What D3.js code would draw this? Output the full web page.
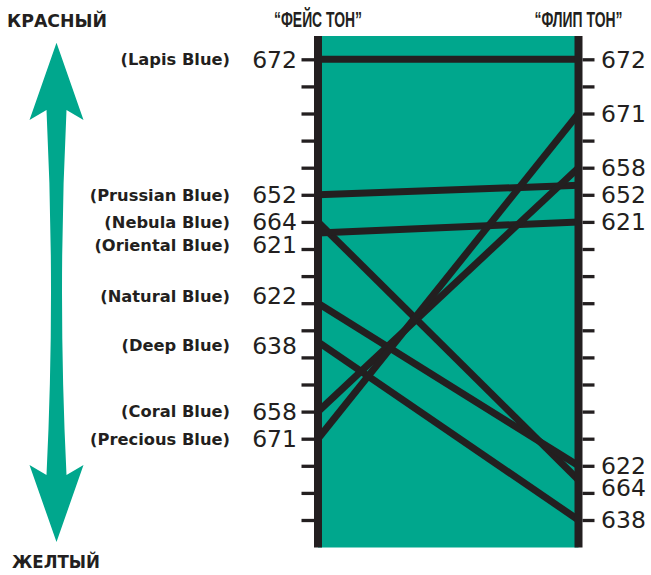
<!DOCTYPE html>
<html>
<head>
<meta charset="utf-8">
<script src="https://cdn.jsdelivr.net/npm/d3@7/dist/d3.min.js"></script>
<style>
  html, body { margin: 0; padding: 0; background: #fff; }
  svg { display: block; }
</style>
</head>
<body>
<svg id="chart" width="651" height="575"></svg>
<script>
// ---- data ----
const names = ["Lapis Blue", "Prussian Blue", "Nebula Blue", "Oriental Blue", "Natural Blue", "Deep Blue", "Coral Blue", "Precious Blue"];
const codes = [672, 652, 664, 621, 622, 638, 658, 671];
// hue position (tick units, 0 = red end at top, 17 = yellow end at bottom)
const faceTone = [0, 5, 6, 6.41, 9, 10.43, 13, 14];
const flipTone = [0, 4.65, 15.52, 6, 15, 17, 4, 2];
// label positions (same units) where labels are pushed apart to avoid overlap
const faceLabelPos = [0, 5, 6, 6.84, 8.73, 10.55, 13, 14];
const flipLabelPos = [0, 5, 15.82, 6, 15, 17, 4, 2];
const tickValues = d3.range(0, 18);
const titles = ["\u201CФЕЙС ТОН\u201D", "\u201CФЛИП ТОН\u201D"];
const endLabels = ["КРАСНЫЙ", "ЖЕЛТЫЙ"];

// ---- layout ----
const svg = d3.select("#chart");
const GREEN = "#00a78d";
const INK = "#231f20";
const leftX = 318, rightX = 578.5, barW = 8;
const panelTop = 36, panelBottom = 547.5;

const y = d3.scaleLinear().domain([0, 17]).range([59.3, 520]);
const x = d3.scalePoint().domain(["face", "flip"]).range([leftX, rightX]);

// green panel
svg.append("rect")
  .attr("x", leftX).attr("y", panelTop)
  .attr("width", rightX - leftX).attr("height", panelBottom - panelTop)
  .attr("fill", GREEN);

// connecting lines
const rows = names.map((n, i) => ({name: n, code: codes[i], face: faceTone[i], flip: flipTone[i]}));
const line = d3.line().x(d => d[0]).y(d => d[1]);
svg.append("g").selectAll("path").data(rows).join("path")
  .attr("d", d => line([[x("face"), y(d.face)], [x("flip"), y(d.flip)]]))
  .attr("stroke", INK).attr("stroke-width", 7).attr("fill", "none");

// axes
const leftAxis = d3.axisLeft(y).tickValues(tickValues).tickSize(12.5).tickFormat("");
const rightAxis = d3.axisRight(y).tickValues(tickValues).tickSize(12).tickFormat("");
const gL = svg.append("g").attr("transform", `translate(${leftX - barW / 2},0)`).call(leftAxis);
const gR = svg.append("g").attr("transform", `translate(${rightX + barW / 2},0)`).call(rightAxis);
[gL, gR].forEach(g => {
  g.select(".domain").remove();
  g.selectAll(".tick line").attr("stroke", INK).attr("stroke-width", 3.3);
});

// bars
[leftX, rightX].forEach(cx => {
  svg.append("rect")
    .attr("x", cx - barW / 2).attr("y", panelTop)
    .attr("width", barW).attr("height", panelBottom - panelTop)
    .attr("fill", INK);
});

// left labels
const numFont = "'DejaVu Sans', sans-serif";
svg.append("g").selectAll("text").data(rows).join("text")
  .attr("x", 297).attr("y", (d, i) => y(faceLabelPos[i]))
  .attr("dy", "0.36em")
  .attr("text-anchor", "end")
  .attr("font-family", numFont).attr("font-size", 23.5)
  .attr("fill", INK)
  .text(d => d.code);

svg.append("g").selectAll("text").data(rows).join("text")
  .attr("x", 230).attr("y", (d, i) => y(faceLabelPos[i]))
  .attr("dy", "0.36em")
  .attr("text-anchor", "end")
  .attr("font-family", numFont).attr("font-size", 16.3).attr("font-weight", "bold")
  .attr("fill", INK)
  .text(d => `(${d.name})`);

// right labels
svg.append("g").selectAll("text").data(rows).join("text")
  .attr("x", 601).attr("y", (d, i) => y(flipLabelPos[i]))
  .attr("dy", "0.36em")
  .attr("text-anchor", "start")
  .attr("font-family", numFont).attr("font-size", 23.5)
  .attr("fill", INK)
  .text(d => d.code);

// column titles (condensed by horizontal scaling)
svg.append("g").selectAll("text").data(titles).join("text")
  .attr("text-anchor", "middle")
  .attr("font-family", "'Liberation Sans', Arial, sans-serif")
  .attr("font-weight", "bold").attr("font-size", 21.5)
  .attr("fill", INK)
  .text(d => d)
  .each(function (d, i) {
    const w = this.getComputedTextLength();
    const s = 88 / w;
    d3.select(this).attr("transform", `translate(${[leftX, rightX][i]},26.6) scale(${s},1)`);
  });

// end labels
svg.append("text").attr("x", 7).attr("y", 26.7)
  .attr("textLength", 100).attr("lengthAdjust", "spacingAndGlyphs")
  .attr("font-family", numFont).attr("font-weight", "bold").attr("font-size", 18)
  .attr("fill", INK).text(endLabels[0]);
svg.append("text").attr("x", 12).attr("y", 568.3)
  .attr("textLength", 88).attr("lengthAdjust", "spacingAndGlyphs")
  .attr("font-family", numFont).attr("font-weight", "bold").attr("font-size", 18)
  .attr("fill", INK).text(endLabels[1]);

// double arrow
const cx = 56.5;
const arrowPath = d3.path();
arrowPath.moveTo(cx, 42.7);
arrowPath.lineTo(cx + 27, 120);
arrowPath.lineTo(cx + 10, 110);
arrowPath.quadraticCurveTo(cx + 1, 292.5, cx + 10, 475);
arrowPath.lineTo(cx + 27, 465);
arrowPath.lineTo(cx, 542);
arrowPath.lineTo(cx - 27, 465);
arrowPath.lineTo(cx - 10, 475);
arrowPath.quadraticCurveTo(cx - 1, 292.5, cx - 10, 110);
arrowPath.lineTo(cx - 27, 120);
arrowPath.closePath();
svg.append("path").attr("d", arrowPath.toString()).attr("fill", GREEN);
</script>
</body>
</html>
